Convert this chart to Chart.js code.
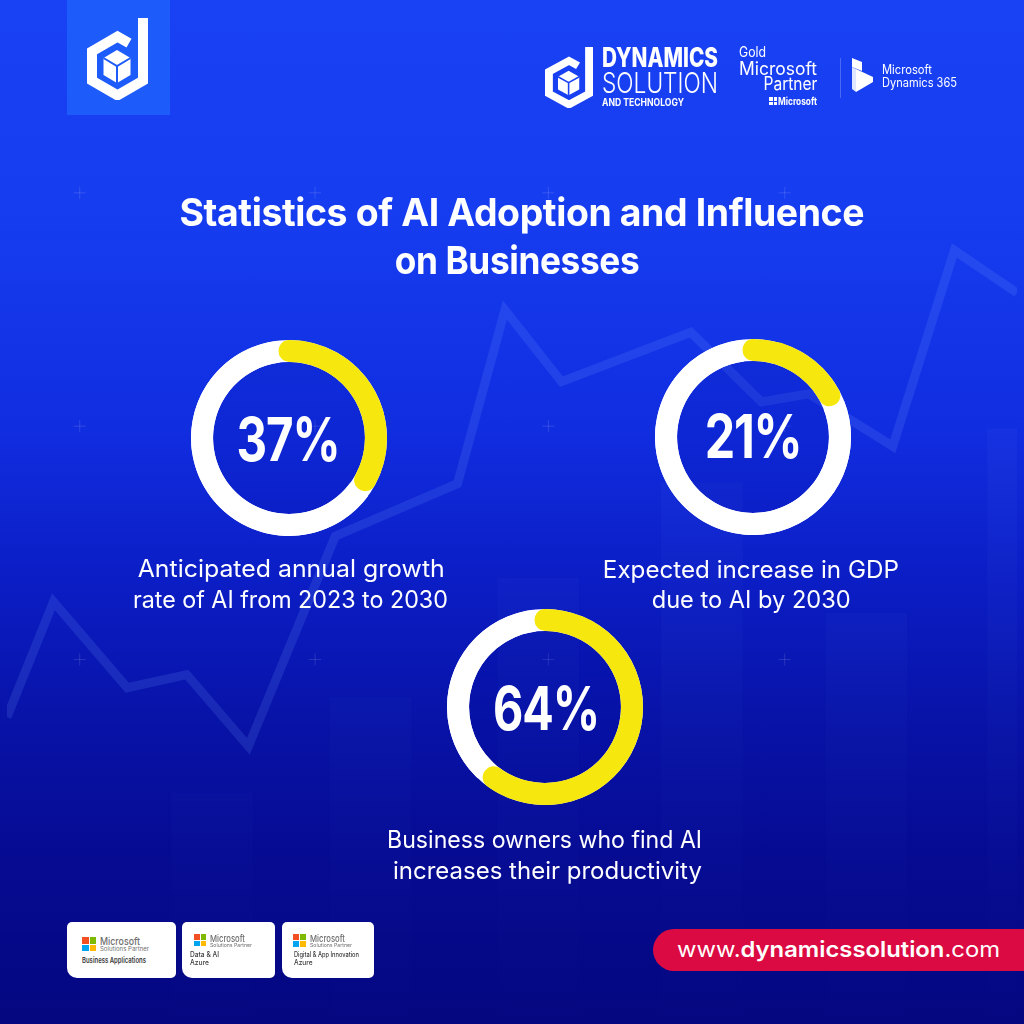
<!DOCTYPE html>
<html><head><meta charset="utf-8">
<script src="https://cdn.jsdelivr.net/npm/chart.js@4.4.1/dist/chart.umd.min.js"></script>
<style>
html,body{margin:0;padding:0;width:1024px;height:1024px;overflow:hidden;background:#040680;}
#page{position:relative;width:1024px;height:1024px;overflow:hidden;
  background:linear-gradient(180deg,#1942f4 0%,#163cef 22%,#112de0 42%,#0b1dc4 57%,#0813a8 70%,#060b93 83%,#04077f 100%);
  font-family:Inter,"Noto Sans",sans-serif;}
canvas{position:absolute;display:block;}
.t{position:absolute;white-space:nowrap;color:#fff;line-height:1;}
.badge{position:absolute;background:#fff;border-radius:5px 5px 5px 10px;}
.ms{position:absolute;display:grid;grid-template-columns:1fr 1fr;grid-template-rows:1fr 1fr;gap:1px;}
</style></head>
<body><div id="page">
<canvas id="bg" width="1024" height="1024" style="left:0;top:0"></canvas>
<div style="position:absolute;left:67px;top:0;width:103px;height:115px;background:#1e5bfb;"></div>
</div>
<script>
// ---------------- DATA ----------------
const titleLines = ["Statistics of AI Adoption and Influence", "on Businesses"];
const statValues = [37, 21, 64];
const statLabels = ["37%", "21%", "64%"];
const statCaptions = [
  ["Anticipated annual growth", "rate of AI from 2023 to 2030"],
  ["Expected increase in GDP", "due to AI by 2030"],
  ["Business owners who find AI", "increases their productivity"]
];
// decorative background trend (percent of width / percent of height from bottom)
const bgLineX = [0, 4.6, 11.9, 17.8, 23.9, 32.5, 44.6, 49.3, 54.9, 67.7, 74.7, 79.4, 87.7, 93.8, 100];
const bgLineY = [29.7, 41.1, 32.6, 33.9, 26.8, 47.6, 52.8, 70.0, 62.9, 67.8, 60.9, 61.7, 56.5, 75.9, 71.7];
const bgBarX = [20.3, 36.0, 52.6, 68.8, 85.1, 101.1];
const bgBarTop = [22.2, 31.6, 43.4, 52.9, 40.0, 58.2];
const crossX = [7.2, 30.5, 53.6, 77.0];
const crossY = [81.6, 58.5, 35.4];

const page = document.getElementById('page');

// ---------------- BACKGROUND CHART ----------------
const crosses = [];
crossY.forEach(y => crossX.forEach(x => crosses.push({x, y})));
new Chart(document.getElementById('bg'), {
  type: 'scatter',
  data: {
    datasets: [
      {
        type: 'bar',
        data: bgBarX.map((x, i) => ({x, y: [0, bgBarTop[i]]})),
        barThickness: 81,
        borderWidth: 0,
        backgroundColor: (c) => {
          const a = c.chart.chartArea;
          if (!a) return 'rgba(110,150,255,0.04)';
          const g = c.chart.ctx.createLinearGradient(0, a.top + 420, 0, a.bottom);
          g.addColorStop(0, 'rgba(120,160,255,0.05)');
          g.addColorStop(1, 'rgba(120,160,255,0.008)');
          return g;
        },
        order: 3
      },
      {
        type: 'line',
        data: bgLineX.map((x, i) => ({x, y: bgLineY[i]})),
        borderColor: 'rgba(120,160,255,0.16)',
        borderWidth: 9,
        pointRadius: 0,
        tension: 0,
        borderJoinStyle: 'miter',
        order: 2
      },
      {
        type: 'scatter',
        data: crosses,
        pointStyle: 'cross',
        pointRadius: 6,
        pointBorderWidth: 1,
        pointBorderColor: 'rgba(255,255,255,0.13)',
        order: 1
      }
    ]
  },
  options: {
    responsive: false, animation: false, events: [],
    layout: {padding: 0},
    plugins: {legend: {display: false}, tooltip: {enabled: false}},
    scales: {
      x: {type: 'linear', min: 0, max: 100, offset: false, display: false},
      y: {type: 'linear', min: 0, max: 100, offset: false, display: false}
    }
  }
});

// ---------------- DONUTS ----------------
const donutPos = [[289, 438], [753, 437], [545, 707]];
const R = 98;
const ringPlugin = {
  id: 'ring',
  beforeDatasetsDraw(chart) {
    const arc = chart.getDatasetMeta(0).data[0];
    if (!arc) return;
    const {x, y, innerRadius, outerRadius} = arc.getProps(['x', 'y', 'innerRadius', 'outerRadius'], true);
    const ctx = chart.ctx;
    ctx.save();
    ctx.beginPath();
    ctx.arc(x, y, innerRadius + 0.5, 0, Math.PI * 2);
    ctx.fillStyle = 'rgba(0,8,150,0.14)';
    ctx.fill();
    ctx.beginPath();
    ctx.arc(x, y, outerRadius, 0, Math.PI * 2);
    ctx.arc(x, y, innerRadius, 0, Math.PI * 2, true);
    ctx.fillStyle = '#ffffff';
    ctx.fill();
    ctx.restore();
  }
};
statValues.forEach((v, i) => {
  const cv = document.createElement('canvas');
  cv.width = 2 * R; cv.height = 2 * R;
  cv.style.left = (donutPos[i][0] - R) + 'px';
  cv.style.top = (donutPos[i][1] - R) + 'px';
  page.appendChild(cv);
  new Chart(cv, {
    type: 'doughnut',
    data: {labels: ['value', 'rest'], datasets: [{
      data: [v, 100 - v],
      backgroundColor: ['#f6e80e', '#ffffff'],
      borderWidth: 0,
      borderRadius: (c) => c.dataIndex === 0 ? 11 : 0
    }]},
    options: {
      responsive: false, animation: false, events: [],
      cutout: '77.5%', rotation: -7,
      layout: {padding: 0},
      plugins: {legend: {display: false}, tooltip: {enabled: false}}
    },
    plugins: [ringPlugin]
  });
});

// ---------------- TEXT ----------------
function addText(s) {
  const el = document.createElement('div');
  el.className = 't';
  el.style.font = `${s.weight || 400} ${s.size}px ${s.family || 'Inter, "Noto Sans", sans-serif'}`;
  if (s.ls) el.style.letterSpacing = s.ls + 'px';
  el.style.color = s.color || '#fff';
  el.innerHTML = s.html;
  const probe = document.createElement('span');
  probe.style.cssText = 'display:inline-block;width:0;height:0;vertical-align:baseline';
  el.appendChild(probe);
  page.appendChild(el);
  const nat = el.getBoundingClientRect().width - (s.ls || 0);
  const base = probe.offsetTop;
  const sx = s.w ? s.w / nat : 1;
  let left;
  if (s.a === 'c') { left = s.x - nat / 2; el.style.transformOrigin = '50% 0'; }
  else if (s.a === 'r') { left = s.x - nat; el.style.transformOrigin = '100% 0'; }
  else { left = s.x; el.style.transformOrigin = '0 0'; }
  el.style.left = left + 'px';
  el.style.top = (s.y - base) + 'px';
  el.style.transform = `scaleX(${sx})`;
  return el;
}

// title
addText({html: titleLines[0], weight: 700, size: 38, ls: -0.4, a: 'c', x: 522, y: 226, w: 685});
addText({html: titleLines[1], weight: 700, size: 38, ls: -0.4, a: 'c', x: 517.5, y: 274, w: 245});

// numbers
const numGeo = [[289, 461, 104], [754, 458, 98], [546.5, 730, 107]];
statLabels.forEach((t, i) => addText({html: t, weight: 700, size: 60, ls: -1.5, a: 'c', x: numGeo[i][0], y: numGeo[i][1], w: numGeo[i][2]}));

// captions
const capGeo = [
  [[291.5, 577, 307], [290.5, 608, 315]],
  [[751, 578, 296], [751.5, 608, 199]],
  [[544.5, 848, 315], [547.5, 879, 309]]
];
statCaptions.forEach((lines, i) => lines.forEach((t, j) =>
  addText({html: t, weight: 400, size: 24, a: 'c', x: capGeo[i][j][0], y: capGeo[i][j][1], w: capGeo[i][j][2]})));

// ---------------- LOGOS ----------------
function logoSVG(left, top, w, h, inner) {
  const d = document.createElement('div');
  d.style.cssText = `position:absolute;left:${left}px;top:${top}px;width:${w}px;height:${h}px;`;
  d.innerHTML = `<svg width="${w}" height="${h}" viewBox="0 0 61 82" preserveAspectRatio="none">
    <path d="M56,0 L56,62.7 L30.5,77.4 L5,62.7 L5,33.3 L30.5,18.6 L42,25.2" fill="none" stroke="#fff" stroke-width="10" stroke-linejoin="miter"/>
    <polygon points="30,32 43.5,40 43.5,57 30,65 16.5,57 16.5,40" fill="#fff"/>
    <polyline points="16.5,40 30,48 43.5,40" fill="none" stroke="${inner}" stroke-width="2"/>
    <line x1="30" y1="48" x2="30" y2="65" stroke="${inner}" stroke-width="2"/>
  </svg>`;
  page.appendChild(d);
}
logoSVG(87, 18, 61, 82, '#1e5bfb');
logoSVG(545, 47, 48, 61, '#1a42f7');

addText({html: 'DYNAMICS', weight: 800, size: 27, a: 'l', x: 602, y: 67, w: 116});
addText({html: 'SOLUTION', weight: 300, size: 29, a: 'l', x: 602, y: 93, w: 116});
addText({html: 'AND TECHNOLOGY', weight: 700, size: 10, a: 'l', x: 602, y: 106, w: 82});
addText({html: 'Gold', weight: 400, size: 14, a: 'l', x: 739, y: 57, w: 27});
addText({html: 'Microsoft', weight: 400, size: 18, a: 'l', x: 739, y: 75, w: 78});
addText({html: 'Partner', weight: 400, size: 18, a: 'r', x: 817, y: 90, w: 54});
addText({html: 'Microsoft', weight: 700, size: 10, a: 'l', x: 778, y: 105, w: 39});
{
  const w = document.createElement('div');
  w.className = 'ms';
  w.style.cssText += 'left:769px;top:97px;width:8px;height:8px;';
  w.innerHTML = '<i style="background:#fff"></i><i style="background:#fff"></i><i style="background:#fff"></i><i style="background:#fff"></i>';
  page.appendChild(w);
  const dv = document.createElement('div');
  dv.style.cssText = 'position:absolute;left:840px;top:58px;width:1px;height:40px;background:rgba(255,255,255,0.22);';
  page.appendChild(dv);
  const d = document.createElement('div');
  d.style.cssText = 'position:absolute;left:852px;top:58px;width:22px;height:34px;';
  d.innerHTML = `<svg width="22" height="34" viewBox="0 0 22 34">
    <polygon points="0,0 10,4 10,13 0,9" fill="#fff"/>
    <polygon points="4,11 21,19 21,24 4,34" fill="#fff"/>
    <polygon points="0,9 4,11 4,34 0,31" fill="#dfe6ff"/>
  </svg>`;
  page.appendChild(d);
}
addText({html: 'Microsoft', weight: 400, size: 12.5, a: 'l', x: 882, y: 74, w: 50});
addText({html: 'Dynamics 365', weight: 400, size: 12.5, a: 'l', x: 882, y: 87, w: 75});

// ---------------- BADGES ----------------
function badge(l, t, w, h) {
  const b = document.createElement('div');
  b.className = 'badge';
  b.style.cssText += `left:${l}px;top:${t}px;width:${w}px;height:${h}px;`;
  page.appendChild(b);
}
function msLogo(l, t, s) {
  const m = document.createElement('div');
  m.className = 'ms';
  m.style.cssText += `left:${l}px;top:${t}px;width:${s}px;height:${s}px;`;
  m.innerHTML = '<i style="background:#f25022"></i><i style="background:#7fba00"></i><i style="background:#00a4ef"></i><i style="background:#ffb900"></i>';
  page.appendChild(m);
}
badge(67, 922, 109, 56);
badge(182, 922, 93, 56);
badge(282, 922, 92, 56);
msLogo(82, 937, 14);
msLogo(194, 934, 12);
msLogo(293, 934, 13);
const gray = '#6f6f6f';
addText({html: 'Microsoft', weight: 500, size: 10.5, a: 'l', x: 100, y: 944.5, w: 40, color: gray});
addText({html: 'Solutions Partner', weight: 400, size: 5.5, a: 'l', x: 100, y: 950.5, w: 49, color: gray});
addText({html: 'Business Applications', weight: 600, size: 8, a: 'l', x: 82, y: 962.5, w: 64, color: '#3a3a3a'});
addText({html: 'Microsoft', weight: 500, size: 9.5, a: 'l', x: 210, y: 941.7, w: 35, color: gray});
addText({html: 'Solutions Partner', weight: 400, size: 5, a: 'l', x: 210, y: 946.5, w: 42, color: gray});
addText({html: 'Data &amp; AI', weight: 500, size: 7, a: 'l', x: 190, y: 957, w: 29, color: '#3a3a3a'});
addText({html: 'Azure', weight: 500, size: 7, a: 'l', x: 190, y: 965, w: 19, color: '#3a3a3a'});
addText({html: 'Microsoft', weight: 500, size: 9.5, a: 'l', x: 309.5, y: 941.7, w: 35, color: gray});
addText({html: 'Solutions Partner', weight: 400, size: 5, a: 'l', x: 309.5, y: 946.5, w: 42, color: gray});
addText({html: 'Digital &amp; App Innovation', weight: 500, size: 7, a: 'l', x: 293.5, y: 957, w: 65, color: '#3a3a3a'});
addText({html: 'Azure', weight: 500, size: 7, a: 'l', x: 293.5, y: 965, w: 18.5, color: '#3a3a3a'});

// ---------------- URL PILL ----------------
{
  const p = document.createElement('div');
  p.style.cssText = 'position:absolute;left:653px;top:929px;width:400px;height:42px;border-radius:21px;background:#dc0a42;';
  page.appendChild(p);
}
addText({html: 'www.<span style="font-weight:600">dynamicssolution</span>.com', weight: 400, size: 22, a: 'l', x: 677, y: 956.5, w: 323});
</script>
</body></html>
